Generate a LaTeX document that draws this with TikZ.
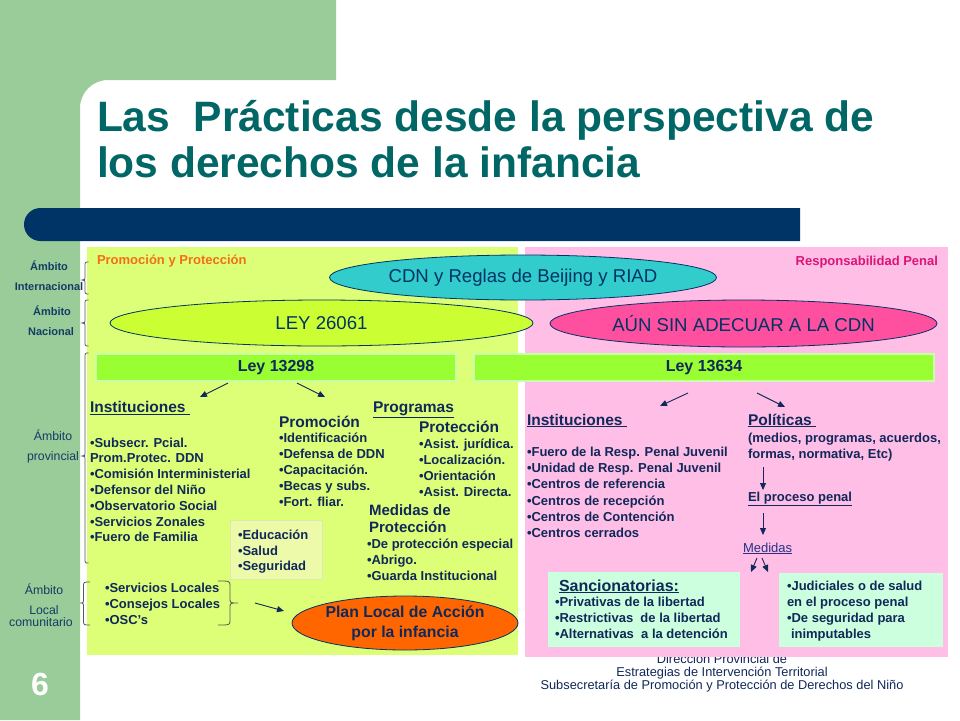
\documentclass[tikz,border=0pt]{standalone}
\usepackage{fontspec}
\setmainfont{Liberation Sans}
\usetikzlibrary{shapes.geometric,arrows.meta}
\definecolor{sidegreen}{RGB}{153,204,153}
\definecolor{barnavy}{RGB}{0,51,102}
\definecolor{titleteal}{RGB}{0,102,102}
\definecolor{pgreen}{RGB}{221,255,119}
\definecolor{ppink}{RGB}{255,190,230}
\definecolor{leybar}{RGB}{153,255,51}
\definecolor{leyborder}{RGB}{200,255,170}
\definecolor{leyell}{RGB}{204,255,51}
\definecolor{cdnell}{RGB}{51,204,204}
\definecolor{aunell}{RGB}{255,80,160}
\definecolor{orangeell}{RGB}{255,102,0}
\definecolor{mint}{RGB}{204,255,221}
\definecolor{eduboxc}{RGB}{236,250,170}
\definecolor{eduborder}{RGB}{215,235,170}
\definecolor{tnavy}{RGB}{16,40,90}
\definecolor{lnavy}{RGB}{20,60,100}
\definecolor{promoc}{RGB}{245,110,20}
\definecolor{respink}{RGB}{220,20,120}
\definecolor{medblue}{RGB}{40,50,130}
\newcommand\mybrace[6]{\draw[brc] (#1,#4) .. controls (#2,#4) .. (#2,#4+5) -- (#2,#6-5) .. controls (#2,#6) .. (#3,#6) .. controls (#2,#6) .. (#2,#6+5) -- (#2,#5-5) .. controls (#2,#5) .. (#1,#5);}
\tikzset{
 every node/.style={inner sep=0pt, outer sep=0pt},
 body/.style={anchor=base west, text=tnavy, font=\fontsize{13}{16}\selectfont\bfseries},
 hd/.style={anchor=base west, text=tnavy, font=\fontsize{15.5}{18}\selectfont\bfseries},
 lab/.style={anchor=base, text=lnavy, font=\fontsize{12.3}{14}\selectfont},
 labb/.style={anchor=base, text=lnavy, font=\fontsize{11}{14}\selectfont\bfseries},
 ell/.style={ellipse, draw=barnavy, line width=0.8pt, text=barnavy, font=\fontsize{18.6}{22}\selectfont},
 leybox/.style={draw=leyborder, line width=1.5pt, fill=leybar, text=tnavy, font=\fontsize{16}{19}\selectfont\bfseries},
 arr/.style={draw=tnavy, line width=0.9pt, -{Triangle[length=7pt,width=6pt]}},
 brc/.style={draw=black!65, line width=0.8pt},
 foot/.style={anchor=base, text=tnavy, font=\fontsize{12.8}{14}\selectfont},
}
\begin{document}
\begin{tikzpicture}[x=1pt,y=-1pt]
\useasboundingbox (0,0) rectangle (960,720);
\fill[white] (0,0) rectangle (960,720);
% side green
\fill[sidegreen] (0,0) -- (336,0) -- (336,80) -- (108,80) .. controls (92.5,80) and (80,92.5) .. (80,108) -- (80,720) -- (0,720) -- cycle;
% navy bar
\fill[barnavy] (800,208) -- (40.5,208) arc[start angle=270, end angle=90, radius=16.5] -- (800,241) -- cycle;
% title
\node[anchor=base west, text=titleteal, font=\fontsize{42.5}{46}\selectfont\bfseries] (t1) at (97,131) {Las\ \ Prácticas desde la perspectiva de};
\node[anchor=base west, text=titleteal, font=\fontsize{42.5}{46}\selectfont\bfseries] (t2) at (97,177) {los derechos de la infancia};
% footer (partly hidden by pink panel)
\node[foot] (f1) at (722,663) {Dirección Provincial de};
\node[foot] (f2) at (722,676.5) {Estrategias de Intervención Territorial};
\node[foot] (f3) at (722,689.5) {Subsecretaría de Promoción y Protección de Derechos del Niño};
% panels
\fill[pgreen] (87,247) rectangle (518,655);
\fill[ppink] (525,247) rectangle (948,657);
% slide number
\node[text=white, font=\fontsize{32}{34}\selectfont\bfseries] (num) at (40,684) {6};
% left labels
\node[labb] (l1a) at (49,270) {Ámbito};
\node[labb] (l1b) at (49,290) {Internacional};
\node[labb] (l2a) at (52,315) {Ámbito};
\node[labb] (l2b) at (51,335) {Nacional};
\node[lab] (l3a) at (53,440.5) {Ámbito};
\node[lab] (l3b) at (53,460.5) {provincial};
\node[lab] (l4a) at (44,594.5) {Ámbito};
\node[lab] (l4b) at (44,614) {Local};
\node[lab] (l4c) at (41,626.5) {comunitario};
% braces
\mybrace{88.5}{85}{82}{262}{294}{280}
\mybrace{88.5}{85}{82}{300}{346}{323}
\mybrace{88.5}{85}{82}{353}{563}{456}
\mybrace{90}{83.5}{80}{582}{625}{603}
\mybrace{218}{230}{238}{581}{625}{603}
% panel titles
\node[anchor=base west, text=promoc, font=\fontsize{13}{15}\selectfont\bfseries] (pyp) at (97,264) {Promoción y Protección};
\node[anchor=base east, text=respink, font=\fontsize{13}{15}\selectfont\bfseries] (rp) at (938,265.5) {Responsabilidad Penal};
% ellipses
\node[ell, fill=leyell, minimum width=423, minimum height=46] (ley) at (321.5,323) {LEY 26061};
\node[ell, fill=cdnell, minimum width=387, minimum height=45] (cdn) at (523,277.5) {CDN y Reglas de Beijing y RIAD};
\node[ell, fill=aunell, minimum width=387, minimum height=47] (aun) at (743.5,323.5) {AÚN SIN ADECUAR A LA CDN};
% law bars
\node[leybox, minimum width=360, minimum height=27] (ley1) at (276,367.5) {Ley 13298};
\node[leybox, minimum width=460, minimum height=27] (ley2) at (704,367.5) {Ley 13634};
% arrows
\coordinate (a1s) at (228,383); \coordinate (a1e) at (200,397);
\coordinate (a2s) at (297,383); \coordinate (a2e) at (325,397);
\coordinate (a3s) at (688,393); \coordinate (a3e) at (660,406);
\coordinate (a4s) at (757,393); \coordinate (a4e) at (785,407);
\coordinate (a5s) at (763,467); \coordinate (a5e) at (763,490);
\coordinate (a6s) at (763,513); \coordinate (a6e) at (763,535);
\coordinate (a7s) at (757,558); \coordinate (a7e) at (751,572);
\coordinate (a8s) at (762,558); \coordinate (a8e) at (768,572);
\coordinate (a9s) at (255,603); \coordinate (a9e) at (284,611);
\foreach \k in {1,...,9} \draw[arr] (a\k s) -- (a\k e);
% left column
\node[hd] (instL) at (90,412.5) {\underline{Instituciones\ }};
\foreach \t [count=\i from 0] in {{•Subsecr. Pcial.},{Prom.Protec. DDN},{•Comisión Interministerial},{•Defensor del Niño},{•Observatorio Social},{•Servicios Zonales},{•Fuero de Familia}}
  \node[body] (il\i) at (90,447+15.8*\i) {\t};
\node[hd] (promo) at (279,427) {Promoción};
\foreach \t [count=\i from 0] in {{•Identificación},{•Defensa de DDN},{•Capacitación.},{•Becas y subs.},{•Fort. fliar.}}
  \node[body] (pm\i) at (279,442.5+16*\i) {\t};
\node[hd] (prog) at (373,412.5) {\underline{Programas}};
\node[hd] (prot) at (419,432) {Protección};
\foreach \t [count=\i from 0] in {{•Asist. jurídica.},{•Localización.},{•Orientación},{•Asist. Directa.}}
  \node[body] (pt\i) at (419,448+16*\i) {\t};
\node[hd, font=\fontsize{15}{18}\selectfont\bfseries] (medA) at (369,515) {Medidas de};
\node[hd, font=\fontsize{15}{18}\selectfont\bfseries] (medB) at (369,532) {Protección};
\foreach \t [count=\i from 0] in {{•De protección especial},{•Abrigo.},{•Guarda Institucional}}
  \node[body] (md\i) at (367,548.5+15.8*\i) {\t};
% education box
\filldraw[fill=eduboxc, draw=eduborder, line width=0.8pt] (230,520) rectangle (322,579);
\foreach \t [count=\i from 0] in {{•Educación},{•Salud},{•Seguridad}}
  \node[body] (ed\i) at (238,539.5+15.7*\i) {\t};
% local
\foreach \t [count=\i from 0] in {{•Servicios Locales},{•Consejos Locales},{•OSC’s}}
  \node[body] (lc\i) at (105,592.5+16*\i) {\t};
\node[ell, fill=orangeell, minimum width=226, minimum height=54, text=tnavy, align=center, font=\fontsize{15.8}{20}\selectfont\bfseries] (plan) at (405,623) {Plan Local de Acción\\por la infancia};
% right side
\node[hd] (instR) at (527,425) {\underline{Instituciones\ }};
\foreach \t [count=\i from 0] in {{•Fuero de la Resp. Penal Juvenil},{•Unidad de Resp. Penal Juvenil},{•Centros de referencia},{•Centros de recepción},{•Centros de Contención},{•Centros cerrados}}
  \node[body] (ir\i) at (527,456.5+16.2*\i) {\t};
\node[hd] (pol) at (748,425) {\underline{Políticas\ }};
\node[body] (polA) at (748,442.5) {(medios, programas, acuerdos,};
\node[body] (polB) at (748,458.5) {formas, normativa, Etc)};
\node[body] (proc) at (748,501.5) {\underline{El proceso penal}};
\node[body, font=\fontsize{13}{16}\selectfont, text=medblue] (med) at (743,552) {\underline{Medidas}};
% result boxes
\fill[mint] (548,572) rectangle (740,647);
\fill[mint] (779,573) rectangle (943,647);
\node[hd, font=\fontsize{16}{18}\selectfont\bfseries] (sanc) at (559,591) {\underline{Sancionatorias:}};
\foreach \t [count=\i from 0] in {{•Privativas de la libertad},{•Restrictivas\ \ de la libertad},{•Alternativas\ \ a la detención}}
  \node[body] (sc\i) at (555,606.5+16*\i) {\t};
\node[body] (jd0) at (787,590.5) {•Judiciales o de salud};
\node[body] (jd1) at (787,606.5) {en el proceso penal};
\node[body] (jd2) at (787,622.5) {•De seguridad para};
\node[body] (jd3) at (791,638.5) {inimputables};
\end{tikzpicture}
\end{document}
